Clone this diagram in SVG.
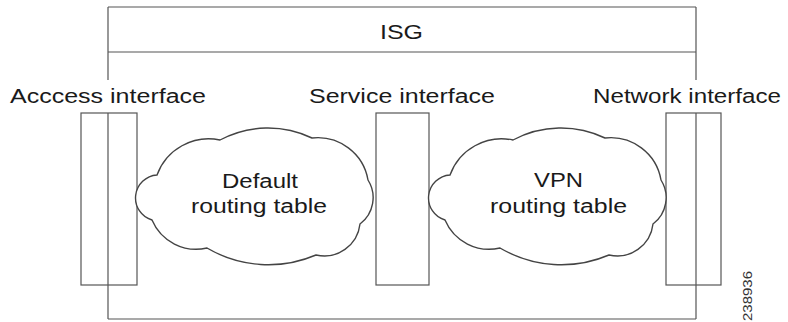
<svg xmlns="http://www.w3.org/2000/svg" width="788" height="322" viewBox="0 0 788 322">
<style>
.ln{stroke:#555;stroke-width:1.2;fill:none}
.bx{stroke:#555;stroke-width:1.2;fill:none}
.cl{stroke:#444;stroke-width:1.4;fill:#fff}
.t{font-family:"Liberation Sans",Arial,sans-serif;font-size:20px;fill:#1a1a1a}
.n{font-family:"Liberation Sans",Arial,sans-serif;font-size:12px;fill:#333}
</style>
<defs>
<path id="cloud" d="M220 140 A102 102 0 0 1 312 138 A51 51 0 0 1 368 180 A33 33 0 0 1 360 224 A36 36 0 0 1 316 255 A121 121 0 0 1 207 248 A48 48 0 0 1 152 220 A23 23 0 0 1 157 175 A55 55 0 0 1 220 140 Z"/>
</defs>
<rect width="788" height="322" fill="#fff"/>
<g id="isg">
<path class="ln" d="M108 7H696M108 52H696M108 319H696M108 7V80M108 113V319M696 7V80M696 113V319"/>
<text class="t" x="380" y="39" textLength="43" lengthAdjust="spacingAndGlyphs">ISG</text>
</g>
<g id="access">
<rect class="bx" x="81" y="113" width="56" height="172"/>
<text class="t" x="10" y="103" textLength="196" lengthAdjust="spacingAndGlyphs">Acccess interface</text>
</g>
<g id="service">
<rect class="bx" x="376" y="113" width="53" height="172"/>
<text class="t" x="309" y="103" textLength="186" lengthAdjust="spacingAndGlyphs">Service interface</text>
</g>
<g id="network">
<rect class="bx" x="666" y="113" width="55" height="172"/>
<text class="t" x="593" y="103" textLength="188" lengthAdjust="spacingAndGlyphs">Network interface</text>
</g>
<g id="default-table">
<use href="#cloud" class="cl"/>
<text class="t" x="222" y="188" textLength="76" lengthAdjust="spacingAndGlyphs">Default</text>
<text class="t" x="191" y="213" textLength="136" lengthAdjust="spacingAndGlyphs">routing table</text>
</g>
<g id="vpn-table">
<use href="#cloud" class="cl" x="293"/>
<text class="t" x="534" y="187" textLength="49" lengthAdjust="spacingAndGlyphs">VPN</text>
<text class="t" x="490" y="213" textLength="137" lengthAdjust="spacingAndGlyphs">routing table</text>
</g>
<g id="connectors"></g>
<text class="n" transform="translate(752,321) rotate(-90)" textLength="50" lengthAdjust="spacingAndGlyphs">238936</text>
</svg>
